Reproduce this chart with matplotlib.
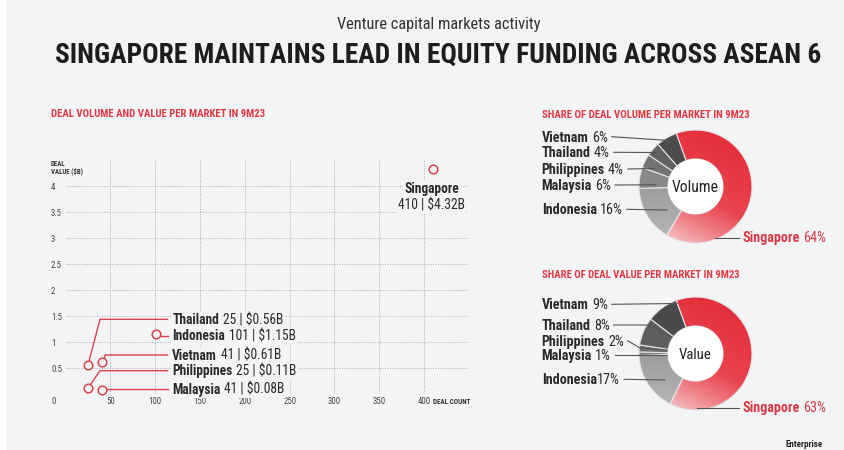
import numpy as np
import matplotlib
matplotlib.use('Agg')
import matplotlib.pyplot as plt
from matplotlib import font_manager as fm
from matplotlib import transforms as mtransforms
from matplotlib.colors import LinearSegmentedColormap
from matplotlib.patches import Rectangle, Circle
from matplotlib.lines import Line2D

# ---------------- data ----------------
scatter_markets = ['Singapore', 'Indonesia', 'Thailand', 'Vietnam', 'Philippines', 'Malaysia']
deal_count = [410, 101, 25, 41, 25, 41]
deal_value_b = [4.32, 1.15, 0.56, 0.61, 0.11, 0.08]
x_ticks = [50, 100, 150, 200, 250, 300, 350, 400]
y_ticks = [0.5, 1, 1.5, 2, 2.5, 3, 3.5, 4]
y_tick_labels = ['0.5', '1', '1.5', '2', '2.5', '3', '3.5', '4']

share_markets = ['Singapore', 'Indonesia', 'Malaysia', 'Philippines', 'Thailand', 'Vietnam']
volume_share = [64, 16, 6, 4, 4, 6]
value_share = [63, 17, 1, 2, 8, 9]

title = 'SINGAPORE MAINTAINS LEAD IN EQUITY FUNDING ACROSS ASEAN 6'
subtitle = 'Venture capital markets activity'
head_scatter = 'DEAL VOLUME AND VALUE PER MARKET IN 9M23'
head_volume = 'SHARE OF DEAL VOLUME PER MARKET IN 9M23'
head_value = 'SHARE OF DEAL VALUE PER MARKET IN 9M23'

# ---------------- fonts ----------------
names = {f.name for f in fm.fontManager.ttflist}
cands = ['Roboto Condensed', 'Liberation Sans Narrow', 'Open Sans Condensed',
         'Noto Sans Condensed', 'DejaVu Sans Condensed', 'Arial Narrow']
COND = next((c for c in cands if c in names), None)
if COND is None:
    extra = sorted(n for n in names if ('Condensed' in n or 'Narrow' in n))
    COND = extra[0] if extra else ('Roboto' if 'Roboto' in names else 'DejaVu Sans')
plt.rcParams['font.family'] = [COND, 'DejaVu Sans']
plt.rcParams['text.parse_math'] = False

# ---------------- style ----------------
W, H = 844, 450
BG = '#f3f4f6'
RED = '#d9434e'
HEAD_RED = '#e03a44'
DARK = '#2a2a2c'
CAP = 0.71

fig = plt.figure(figsize=(W / 100, H / 100), dpi=100)
fig.patch.set_facecolor('white')
fig.add_artist(Rectangle((6 / W, 0), 1 - 6 / W, 1, transform=fig.transFigure,
                         fc=BG, ec='none', zorder=-100))
R = fig.canvas.get_renderer()


def fx(px):
    return px / W


def fy(py):
    return 1 - py / H


def T(px, cy, s, size, ha='left', weight='normal', color=DARK, box=False, z=6):
    t = fig.text(fx(px), fy(cy), s, fontsize=size, ha=ha, va='baseline',
                 fontweight=weight, color=color, zorder=z)
    t._cy = cy
    if box:
        t.set_bbox(dict(boxstyle='square,pad=0.12', fc=BG, ec='none'))
    return t


def wpx(t):
    return t.get_window_extent(R).width


def settle(t):
    fs_px = t.get_fontsize() * 100 / 72
    t.set_y(fy(t._cy + CAP * fs_px / 2))


def fit(t, target):
    t.set_fontsize(t.get_fontsize() * target / wpx(t))
    settle(t)


def fit_rows(rows):
    """rows: list of (t1, t2, target width, gap px). Common font size, t2 placed after t1."""
    fac = np.median([(tg - g) / (wpx(a) + wpx(b)) for a, b, tg, g in rows])
    for a, b, _, g in rows:
        for t in (a, b):
            t.set_fontsize(t.get_fontsize() * fac)
            settle(t)
        b.set_x((a.get_window_extent(R).x1 + g) / W)


# ---------------- titles ----------------
fit(T(438.5, 52.7, title, 20, ha='center', weight='bold', color='#1d1d1f'), 767)
fit(T(438.5, 23.3, subtitle, 10, ha='center', color='#333333'), 203)
fit(T(51, 113.3, head_scatter, 6, weight='bold', color=HEAD_RED), 215)
fit(T(541.7, 114.5, head_volume, 6, weight='bold', color=HEAD_RED), 208)
fit(T(541.7, 274.5, head_value, 6, weight='bold', color=HEAD_RED), 199)

# ---------------- scatter ----------------
AX_L, AX_R, AX_T, AX_B = 65.6, 468, 160, 394
XMAX, YMAX = 449, 4.5
ax = fig.add_axes([fx(AX_L), fy(AX_B), (AX_R - AX_L) / W, (AX_B - AX_T) / H])
ax.set_xlim(0, XMAX)
ax.set_ylim(0, YMAX)
ax.patch.set_alpha(0)
for sp in ax.spines.values():
    sp.set_visible(False)
ax.set_xticks(x_ticks, labels=[str(v) for v in x_ticks])
ax.set_yticks(y_ticks, labels=[''] * len(y_ticks))
ax.tick_params(axis='both', length=0)
ax.tick_params(axis='x', pad=2.5, labelsize=6.3, labelcolor='#444444')
ax.grid(True, linestyle=(0, (1, 1.6)), linewidth=0.7, color='#a9a9ab')
ax.set_axisbelow(True)

ytrans = mtransforms.blended_transform_factory(fig.transFigure, ax.transData)
for v, lab in zip(y_ticks, y_tick_labels):
    ax.text(fx(51), v, lab, transform=ytrans, ha='left', va='center_baseline',
            fontsize=6.3, color='#444444')
fig.text(fx(51), fy(400.7), '0', ha='left', va='center_baseline', fontsize=6.3, color='#444444')

t_dc = T(433.3, 401.3, 'DEAL COUNT', 5, weight='bold', color='#333333')
fit(t_dc, 37.7)
t_dv2 = T(51, 170.7, 'VALUE ($B)', 5, weight='bold', color='#333333')
fit(t_dv2, 32)
t_dv1 = T(51, 163.3, 'DEAL', t_dv2.get_fontsize(), weight='bold', color='#333333')
settle(t_dv1)


def px2x(px):
    return (px - AX_L) / (AX_R - AX_L) * XMAX


def py2y(py):
    return (AX_B - py) / (AX_B - AX_T) * YMAX


# label layout: (market, label cap-centre y px, elbow dx px, target width px)
scatter_layout = [('Thailand', 319.3, 12, 110), ('Indonesia', 335.7, 0, 122.7),
                  ('Vietnam', 355, 3, 107), ('Philippines', 370.7, 12, 124.4),
                  ('Malaysia', 389, 0, 112.7)]
LABEL_X, LINE_END = 172.3, 167.5
rows = []
for name, cy, dxp, tw in scatter_layout:
    i = scatter_markets.index(name)
    c, v = deal_count[i], deal_value_b[i]
    ly = py2y(cy)
    ax.plot([c, c + dxp * XMAX / (AX_R - AX_L), px2x(LINE_END)], [v, ly, ly],
            color=RED, lw=1.0, zorder=4, solid_joinstyle='miter')
    a = T(LABEL_X, cy, name, 10, weight='bold', box=True, z=7)
    b = T(LABEL_X, cy, f'{c} | ${v:.2f}B', 10, box=True, z=6)
    rows.append((a, b, tw, 3.5))
fit_rows(rows)
fs_lab = rows[0][0].get_fontsize()

ax.plot(deal_count, deal_value_b, 'o', ls='none', ms=6.2, mfc=BG, mec=RED, mew=1.1,
        zorder=5, clip_on=False)

i = scatter_markets.index('Singapore')
ts1 = T(431.7, 188.3, 'Singapore', fs_lab, ha='center', weight='bold', box=True)
ts2 = T(431, 205, f'{deal_count[i]} | ${deal_value_b[i]:.2f}B', fs_lab, ha='center', box=True)
settle(ts1)
settle(ts2)

# ---------------- donuts ----------------
INNER = 0.487
red_cmap = LinearSegmentedColormap.from_list(
    'r', [(0, '#e42f3c'), (0.55, '#e9444f'), (0.8, '#ef8087'), (1, '#f4b9bc')])
gray_cmap = LinearSegmentedColormap.from_list('g', ['#9c9c9e', '#b8b8ba'])


def make_donut(cx, cy, rpx, shares, grays, word, word_w):
    pad = 1.06
    size = 2 * rpx * pad
    dax = fig.add_axes([fx(cx - size / 2), fy(cy + size / 2), size / W, size / H])
    wedges, _ = dax.pie(shares, colors=['#e9444f'] + grays, startangle=110,
                        counterclock=False, radius=1,
                        wedgeprops=dict(width=1 - INNER, edgecolor='#e4e4e6', linewidth=0.8))
    yy, xx = np.mgrid[-1:1:300j, -1:1:300j]
    s = (xx * -0.45 + yy * -0.9) / np.hypot(0.45, 0.9)
    tt = np.clip((s + 1) / 2, 0, 1)
    wedges[0].set_facecolor('none')
    im = dax.imshow(tt, extent=(-1, 1, -1, 1), origin='lower', cmap=red_cmap,
                    vmin=0, vmax=1, zorder=0.5, interpolation='bilinear')
    im.set_clip_path(wedges[0])
    wedges[1].set_facecolor('none')
    im2 = dax.imshow(np.clip(-yy, 0, 1), extent=(-1, 1, -1, 1), origin='lower', cmap=gray_cmap,
                     vmin=0, vmax=1, zorder=0.5, interpolation='bilinear')
    im2.set_clip_path(wedges[1])
    dax.add_patch(Circle((0, 0), INNER, fc='white', ec='none', zorder=3))
    dax.set_xlim(-pad, pad)
    dax.set_ylim(-pad, pad)
    dax.axis('off')
    t = T(cx, cy, word, 10, ha='center', color='#222222')
    fit(t, word_w)
    return dax


make_donut(695.5, 186.5, 56.5, volume_share,
           ['#a6a6a8', '#88888a', '#737375', '#616163', '#4c4c4e'], 'Volume', 46.7)
make_donut(695.5, 353.5, 56.5, value_share,
           ['#a6a6a8', '#7c7c7e', '#6f6f71', '#5e5e60', '#4a4a4c'], 'Value', 32.7)

DON_X, SG_X = 541.7, 742.7
# (market, cap-centre y, target width, leader points after text)
vol_layout = [('Vietnam', 136.7, 66, [(669, 140.5)]),
              ('Thailand', 152.3, 68.3, [(655, 152.5)]),
              ('Philippines', 169, 83.3, [(654, 168.5)]),
              ('Malaysia', 185, 71.7, [(656, 184.8)]),
              ('Indonesia', 209.3, 81, [(667, 210)])]
val_layout = [('Vietnam', 304.3, 65.7, [(677, 303.5)]),
              ('Thailand', 325, 68.3, [(650, 325), (672, 337)]),
              ('Philippines', 340.7, 83.3, [(640, 348), (667, 350)]),
              ('Malaysia', 355, 71.3, [(667, 355)]),
              ('Indonesia', 379.3, 78, [(665, 380)])]
val_gap = {'Indonesia': 0.6}

drows = []
leaders = []
for layout, shares, sg_y, sg_from, gaps in [(vol_layout, volume_share, 237.3, 715, {}),
                                            (val_layout, value_share, 407, 697, val_gap)]:
    for name, cy, tw, pts in layout:
        sh = shares[share_markets.index(name)]
        a = T(DON_X, cy, name, 10, weight='bold', z=7)
        b = T(DON_X, cy, f'{sh}%', 10)
        drows.append((a, b, tw, gaps.get(name, 3.2)))
        leaders.append((b, cy, pts))
    sh = shares[share_markets.index('Singapore')]
    a = T(SG_X, sg_y, 'Singapore', 10, weight='bold', color='#d83a46', z=7)
    b = T(SG_X, sg_y, f'{sh}%', 10, color='#d83a46')
    drows.append((a, b, 83.3, 3.2))
    fig.add_artist(Line2D([fx(sg_from), fx(SG_X - 4)], [fy(sg_y + 0.5), fy(sg_y + 0.5)],
                          transform=fig.transFigure, color='#555557', lw=0.8, zorder=5))
fit_rows(drows)

for b, cy, pts in leaders:
    x0 = b.get_window_extent(R).x1 + 4
    xs = [x0] + [p[0] for p in pts]
    ys = [cy] + [p[1] for p in pts]
    fig.add_artist(Line2D([fx(x) for x in xs], [fy(y) for y in ys],
                          transform=fig.transFigure, color='#555557', lw=0.8, zorder=5))

# bottom-right logo text (kept fully inside the canvas)
fig.text(fx(786), fy(449), 'Enterprise', ha='left', va='bottom', fontsize=6.5,
         fontweight='bold', color='#222222')

fig.savefig('out.png', dpi=100, facecolor=fig.get_facecolor())
